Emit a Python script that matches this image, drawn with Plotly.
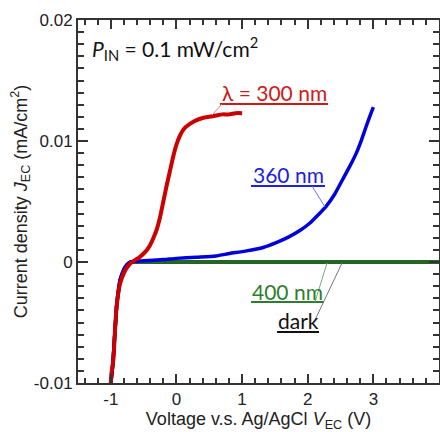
import plotly.graph_objects as go

# ---- data ----
v_300 = [-1.00, -0.99, -0.96, -0.94, -0.91, -0.86, -0.80, -0.76, -0.70, -0.62, -0.56, -0.50,
         -0.45, -0.40, -0.35, -0.30, -0.25, -0.20, -0.15, -0.10, -0.05, 0.00, 0.05, 0.10,
         0.15, 0.20, 0.30, 0.40, 0.50, 0.60, 0.70, 0.80, 0.90, 1.00]
j_300 = [-0.0100, -0.0092, -0.0080, -0.0060, -0.0036, -0.0018, -0.0009, -0.0005, -0.0001,
         0.0002, 0.0004, 0.0007, 0.0010, 0.0014, 0.0020, 0.0027, 0.0037, 0.0050, 0.0063,
         0.0075, 0.0087, 0.0097, 0.0104, 0.0109, 0.0112, 0.0114, 0.0117, 0.0119, 0.0120,
         0.0121, 0.0122, 0.0122, 0.0123, 0.0123]

v_360 = [-1.00, -0.97, -0.94, -0.91, -0.86, -0.80, -0.75, -0.70, -0.50, -0.20, 0.00, 0.30,
         0.60, 0.81, 1.05, 1.32, 1.52, 1.72, 1.88, 2.03, 2.16, 2.28, 2.41, 2.53, 2.64, 2.74,
         2.82, 2.89, 2.95, 3.00]
j_360 = [-0.0100, -0.0085, -0.0060, -0.0035, -0.0015, -0.0006, -0.0002, 0.0000, 0.0001,
         0.0002, 0.0003, 0.0004, 0.0005, 0.0007, 0.0009, 0.0012, 0.0016, 0.0021, 0.0026,
         0.0032, 0.0039, 0.0046, 0.0056, 0.0068, 0.0079, 0.0090, 0.0101, 0.0112, 0.0121,
         0.0128]

v_400 = [-1.00, -0.97, -0.94, -0.91, -0.86, -0.80, -0.75, -0.70, -0.50, 0.00, 1.00, 2.00,
         3.00, 4.00]
j_400 = [-0.0100, -0.0085, -0.0060, -0.0035, -0.0015, -0.0006, -0.0002, 0.0000, 0.0000,
         0.0000, 0.0000, 0.0000, 0.0000, 0.0000]

v_dark = [-1.00, -0.97, -0.94, -0.91, -0.86, -0.80, -0.75, -0.70, -0.50, 0.00, 1.00, 2.00,
          3.00, 3.50, 4.00]
j_dark = [-0.0100, -0.0085, -0.0060, -0.0035, -0.0015, -0.0006, -0.0002, 0.0000, 0.0000,
          0.0000, 0.0000, 0.0000, -0.00003, -0.00003, 0.0000]

x_ticks = [-1, 0, 1, 2, 3, 4]
x_ticktext = ["-1", "0", "1", "2", "3", "4"]
y_ticks = [-0.01, 0, 0.01, 0.02]
y_ticktext = ["-0.01", "0", "0.01", "0.02"]

RED = "#cc0000"
BLUE = "#0000dd"
GREEN = "#1e6b1e"
BLACK = "#111111"

fig = go.Figure()
fig.add_trace(go.Scatter(x=v_dark, y=j_dark, mode="lines", line=dict(color=BLACK, width=3.5)))
fig.add_trace(go.Scatter(x=v_400, y=j_400, mode="lines", line=dict(color=GREEN, width=3.5)))
fig.add_trace(go.Scatter(x=v_360, y=j_360, mode="lines",
                         line=dict(color=BLUE, width=3.5, shape="spline", smoothing=0.6)))
fig.add_trace(go.Scatter(x=v_300, y=j_300, mode="lines",
                         line=dict(color=RED, width=4, shape="spline", smoothing=0.6)))

# helpers: pixel -> data (for label/leader placement only)
L, R, T, B = 78, 439, 20, 383
XR = (-1.5, 4.0)
YR = (-0.01, 0.02)


def px_x(p):
    return XR[0] + (p - L) / (R - L) * (XR[1] - XR[0])


def px_y(p):
    return YR[0] + (B - p) / (B - T) * (YR[1] - YR[0])


LABEL_FONT = "Lato, 'Open Sans', sans-serif"
labels = [
    # text, color, text left px, text right px, text center y px, underline y, leader (x0,y0,x1,y1)
    ("λ = 300 nm", "#d01818", 220, 328, 92, 104, (212, 115, 222, 104)),
    ("360 nm", "#2020e0", 251, 325, 174, 186, (312, 186, 325, 207)),
    ("400 nm", "#2e7d2e", 251, 324, 291, 302, (315, 302, 327, 263)),
    ("dark", "#111111", 277, 319, 320, 332, (315, 320, 342, 263)),
]
leader_colors = ["#e08080", "#7070ee", "#70b070", "#777777"]

for (txt, col, xl, xr, yc, yu, ld), lc in zip(labels, leader_colors):
    fig.add_annotation(x=px_x((xl + xr) / 2), y=px_y(yc), xref="x", yref="y", text=txt,
                       showarrow=False, font=dict(family=LABEL_FONT, size=21, color=col),
                       xanchor="center", yanchor="middle")
    fig.add_shape(type="line", xref="x", yref="y", x0=px_x(xl), x1=px_x(xr),
                  y0=px_y(yu), y1=px_y(yu), line=dict(color=col, width=2))
    fig.add_shape(type="line", xref="x", yref="y", x0=px_x(ld[0]), y0=px_y(ld[1]),
                  x1=px_x(ld[2]), y1=px_y(ld[3]), line=dict(color=lc, width=1))

fig.add_annotation(x=px_x(90), y=px_y(48), xref="x", yref="y",
                   text="<i>P</i><sub>IN</sub> = 0.1 mW/cm<sup>2</sup>", showarrow=False,
                   font=dict(family=LABEL_FONT, size=21, color="#111111"),
                   xanchor="left", yanchor="middle")

TICKFONT = dict(family="Liberation Sans, Arial, sans-serif", size=17, color="#222222")
axis_common = dict(
    showline=True, linecolor="#333333", linewidth=2, mirror="allticks",
    ticks="inside", tickwidth=1.5, tickcolor="#333333",
    showgrid=False, zeroline=False, automargin=False,
    tickfont=TICKFONT,
)

fig.update_xaxes(**axis_common, range=list(XR), tickvals=x_ticks, ticktext=x_ticktext,
                 ticklen=9,
                 minor=dict(ticks="inside", dtick=0.2, tick0=0, ticklen=5, tickwidth=1.5,
                            tickcolor="#333333"),
                 title=dict(text="Voltage v.s. Ag/AgCl <i>V</i><sub>EC</sub> (V)",
                            font=dict(family="Liberation Sans, Arial, sans-serif", size=18,
                                      color="#222222"), standoff=10))
fig.update_yaxes(**axis_common, range=list(YR), tickvals=y_ticks, ticktext=y_ticktext,
                 ticklen=10,
                 minor=dict(ticks="inside", dtick=0.001, tick0=0, ticklen=6, tickwidth=1.5,
                            tickcolor="#333333"),
                 title=dict(text="Current density <i>J</i><sub>EC</sub> (mA/cm<sup>2</sup>)",
                            font=dict(family="Liberation Sans, Arial, sans-serif", size=18,
                                      color="#222222"), standoff=2))

fig.update_layout(width=440, height=432, showlegend=False,
                  margin=dict(l=L, r=440 - R, t=T, b=432 - B, pad=0),
                  plot_bgcolor="white", paper_bgcolor="white")

fig.write_html("out.html", config={"displayModeBar": False},
               post_script="document.body.style.margin='0';document.body.style.overflow='hidden';")
